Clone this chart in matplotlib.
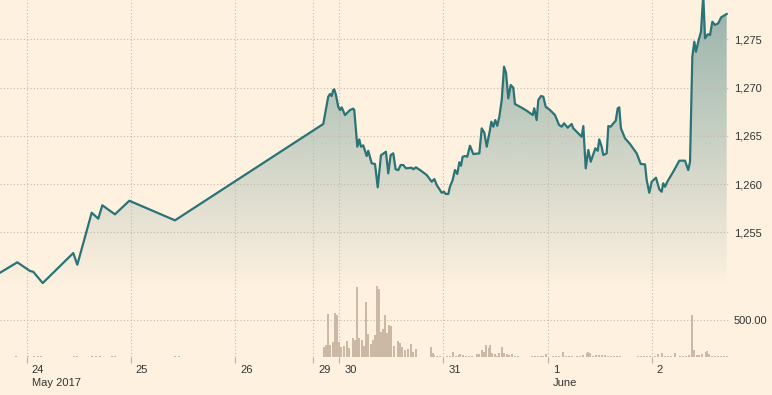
import numpy as np
import matplotlib.pyplot as plt
from matplotlib.transforms import ScaledTranslation

# x = trading-day position (24 May = 0), price = index level
price_x = [-0.256, -0.090, 0.032, 0.063, 0.154, 0.447, 0.486, 0.624, 0.687, 0.726,
           0.847, 0.985, 1.423, 2.846, 2.894, 2.911, 2.927, 2.942, 2.952, 2.968,
           2.990, 3.007, 3.023, 3.055, 3.103, 3.134, 3.144, 3.173, 3.192, 3.208,
           3.230, 3.263, 3.278, 3.311, 3.343, 3.369, 3.400, 3.448, 3.470, 3.493,
           3.518, 3.541, 3.566, 3.589, 3.614, 3.640, 3.695, 3.710, 3.736, 3.775,
           3.839, 3.887, 3.912, 3.935, 3.983, 4.005, 4.021, 4.046, 4.062, 4.088,
           4.110, 4.132, 4.152, 4.168, 4.184, 4.206, 4.228, 4.254, 4.286, 4.344,
           4.367, 4.392, 4.415, 4.446, 4.459, 4.478, 4.497, 4.516, 4.536, 4.559,
           4.581, 4.600, 4.622, 4.645, 4.670, 4.686, 4.734, 4.798, 4.856, 4.871,
           4.894, 4.910, 4.936, 4.958, 4.981, 5.022, 5.070, 5.109, 5.134, 5.157,
           5.192, 5.230, 5.246, 5.310, 5.326, 5.342, 5.365, 5.390, 5.413, 5.438,
           5.457, 5.480, 5.495, 5.518, 5.534, 5.566, 5.582, 5.605, 5.630, 5.653,
           5.672, 5.687, 5.703, 5.742, 5.790, 5.854, 5.893, 5.934, 5.950, 5.975,
           5.998, 6.039, 6.071, 6.094, 6.109, 6.126, 6.148, 6.205, 6.263, 6.318,
           6.349, 6.366, 6.388, 6.407, 6.423, 6.445, 6.471, 6.493, 6.510, 6.536,
           6.558, 6.580, 6.606, 6.637, 6.665, 6.718]
price = [1250.81, 1251.89, 1250.99, 1250.91, 1249.74, 1252.85, 1251.64, 1257.03, 1256.41, 1257.80,
         1256.86, 1258.27, 1256.24, 1266.22, 1269.05, 1269.33, 1269.12, 1269.74, 1269.82, 1269.23,
         1268.01, 1267.67, 1267.95, 1267.15, 1267.67, 1267.81, 1267.67, 1263.87, 1264.63, 1263.87,
         1264.01, 1262.90, 1263.45, 1262.15, 1262.08, 1259.66, 1262.98, 1263.35, 1261.11, 1263.01,
         1263.18, 1261.53, 1261.45, 1261.97, 1261.97, 1261.63, 1261.69, 1261.53, 1261.73, 1261.45,
         1260.94, 1260.24, 1260.52, 1259.90, 1259.10, 1259.20, 1258.97, 1258.97, 1259.72, 1260.42,
         1261.45, 1261.04, 1262.25, 1261.90, 1262.83, 1262.90, 1262.83, 1263.97, 1263.11, 1263.18,
         1265.77, 1265.32, 1263.87, 1265.60, 1266.46, 1265.94, 1266.63, 1266.04, 1266.98, 1268.71,
         1272.16, 1271.54, 1268.88, 1270.26, 1269.98, 1268.29, 1268.01, 1267.60, 1267.15, 1267.85,
         1266.63, 1268.71, 1269.12, 1269.05, 1268.01, 1267.67, 1267.15, 1266.12, 1265.94, 1266.29,
         1265.84, 1266.22, 1265.77, 1265.08, 1264.90, 1266.01, 1261.63, 1263.53, 1262.31, 1263.08,
         1263.70, 1263.45, 1264.63, 1263.87, 1263.01, 1263.18, 1266.01, 1265.94, 1266.29, 1266.56,
         1267.85, 1267.95, 1265.77, 1264.74, 1264.15, 1263.18, 1262.08, 1262.04, 1260.42, 1259.10,
         1260.24, 1260.66, 1259.45, 1259.20, 1260.08, 1259.72, 1260.24, 1261.28, 1262.42, 1262.42,
         1261.45, 1262.31, 1273.19, 1274.75, 1273.71, 1274.75, 1275.79, 1279.60, 1275.10, 1275.52,
         1275.44, 1276.82, 1276.48, 1276.66, 1277.28, 1277.62]

vol_x = [-0.103, 0.012, 0.070, 0.108, 0.137, 0.454, 0.483, 0.627, 0.665, 0.703,
         0.819, 0.847, 1.423, 1.462,
         2.856, 2.875, 2.889, 2.908, 2.937, 2.956, 2.975, 2.997, 3.019, 3.042,
         3.077, 3.096, 3.129, 3.148, 3.167, 3.189, 3.215, 3.234, 3.253, 3.273,
         3.304, 3.323, 3.342, 3.362, 3.384, 3.403, 3.422, 3.439, 3.458, 3.477,
         3.496, 3.528, 3.560, 3.583, 3.602, 3.633, 3.660, 3.688, 3.707, 3.733,
         3.880, 3.896, 3.912, 3.938, 3.967, 4.034, 4.062, 4.094, 4.120, 4.146,
         4.159, 4.184, 4.217, 4.246, 4.274, 4.319, 4.344, 4.369, 4.392, 4.411,
         4.432, 4.449, 4.468, 4.494, 4.513, 4.533, 4.559, 4.581, 4.607, 4.631,
         4.657, 4.686, 4.715, 4.849, 4.878, 4.907, 4.936, 4.955, 4.983, 5.051,
         5.080, 5.109, 5.150, 5.176, 5.205, 5.234, 5.281, 5.310, 5.339, 5.374,
         5.390, 5.406, 5.435, 5.464, 5.492, 5.521, 5.550, 5.579, 5.607, 5.636,
         5.665, 5.694, 5.867, 5.896, 5.925, 5.953, 5.982, 6.030, 6.061, 6.099,
         6.126, 6.155, 6.183, 6.222, 6.269, 6.298, 6.327, 6.356, 6.382, 6.407,
         6.430, 6.454, 6.478, 6.519, 6.532, 6.551, 6.577, 6.606, 6.634, 6.663,
         6.692, 6.721]
vol = [14, 14, 14, 14, 14, 14, 14, 14, 14, 14,
       14, 14, 14, 14,
       136, 159, 581, 159, 204, 602, 571, 204, 126, 146,
       214, 113, 249, 227, 952, 249, 227, 146, 744, 309,
       167, 227, 295, 962, 929, 340, 371, 567, 326, 431,
       418, 146, 218, 181, 136, 91, 105, 173, 68, 105,
       127, 45, 27, 14, 14, 14, 14, 68, 14, 27,
       36, 27, 14, 14, 14, 32, 36, 91, 59, 163,
       113, 159, 54, 36, 14, 54, 136, 54, 36, 18,
       32, 14, 14, 14, 14, 14, 14, 14, 36, 14,
       14, 14, 64, 14, 14, 14, 14, 14, 18, 54,
       64, 45, 14, 18, 27, 18, 18, 14, 14, 14,
       14, 14, 14, 14, 14, 14, 14, 14, 36, 45,
       14, 14, 14, 50, 14, 14, 14, 18, 567, 91,
       23, 23, 32, 64, 82, 36, 14, 14, 14, 14,
       14, 14]

tick_pos = [0, 1, 2, 2.75, 3, 4, 5, 6]
tick_labels = ['24', '25', '26', '29', '30', '31', '1', '2']
month_pos = [0, 5]
month_labels = ['May 2017', 'June']
price_ticks = [1255, 1260, 1265, 1270, 1275]
vol_ticks = [500]

BG = '#fff1e0'
LINE = '#2a7376'
TEAL = '#2e7474'
BAR = '#ccb9a5'
GRID = '#c4b8aa'
TXT = '#333333'
FS = 8

plt.rcParams['font.family'] = ['Liberation Sans', 'DejaVu Sans']
plt.rcParams['font.size'] = FS

fig = plt.figure(figsize=(7.72, 3.95), dpi=100)
fig.patch.set_facecolor(BG)
rect = [0, 38.3 / 395, 729 / 772, 356.7 / 395]

# price panel
ax = fig.add_axes(rect)
ax.set_facecolor(BG)
x0, x1 = -0.256, 6.740
y0, y1 = 1242.11, 1279.07
ax.set_xlim(x0, x1)
ax.set_ylim(y0, y1)

fill = ax.fill_between(price_x, price, y0, color='none', lw=0)
# vertical gradient: strongest at the top, gone ~290px down
rows = 200
alpha = 0.5 * np.clip(1 - np.linspace(0, 356.7, rows) / 290, 0, 1)
grad = np.zeros((rows, 1, 4))
grad[:, 0, :3] = plt.matplotlib.colors.to_rgb(TEAL)
grad[:, 0, 3] = alpha
im = ax.imshow(grad, extent=[x0, x1, y0, y1], aspect='auto', origin='upper', zorder=1)
im.set_clip_path(fill.get_paths()[0], transform=ax.transData)
ax.plot(price_x, price, color=LINE, lw=1.6, zorder=3, solid_joinstyle='round')

ax.set_yticks(price_ticks)
ax.set_yticklabels([f'{v:,}' for v in price_ticks])
ax.yaxis.tick_right()
ax.tick_params(axis='y', length=0, pad=3.5, colors=TXT, labelsize=FS)
ax.set_xticks(tick_pos)
ax.tick_params(axis='x', bottom=False, labelbottom=False)
ax.grid(True, color=GRID, lw=0.8, ls=(0, (1, 2)))
for s in ax.spines.values():
    s.set_visible(False)

# volume panel
axv = fig.add_axes(rect, sharex=ax)
axv.patch.set_visible(False)
axv.bar(vol_x, vol, width=0.018, color=BAR, lw=0, zorder=2)
axv.set_ylim(0, 4860)
axv.set_yticks(vol_ticks)
axv.set_yticklabels([f'{v:.2f}' for v in vol_ticks])
axv.yaxis.tick_right()
axv.tick_params(axis='y', length=0, pad=3.5, colors=TXT, labelsize=FS)
axv.grid(True, axis='y', color=GRID, lw=0.8, ls=(0, (1, 2)))
axv.set_xticks(tick_pos)
axv.set_xticklabels(tick_labels)
axv.tick_params(axis='x', length=4.5, width=0.8, color='#b8ad9f', pad=1.5,
                labelcolor=TXT, labelsize=FS)
shift = ScaledTranslation(5 / 100, 0, fig.dpi_scale_trans)
for lbl in axv.get_xticklabels():
    lbl.set_ha('left')
    lbl.set_transform(lbl.get_transform() + shift)
for s in axv.spines.values():
    s.set_visible(False)

for pos, lab in zip(month_pos, month_labels):
    axv.annotate(lab, xy=(pos, 0), xycoords=('data', 'axes fraction'),
                 xytext=(3.6, -15.5), textcoords='offset points',
                 ha='left', va='top', color=TXT, fontsize=FS)

fig.savefig('out.png', dpi=100, facecolor=BG)
